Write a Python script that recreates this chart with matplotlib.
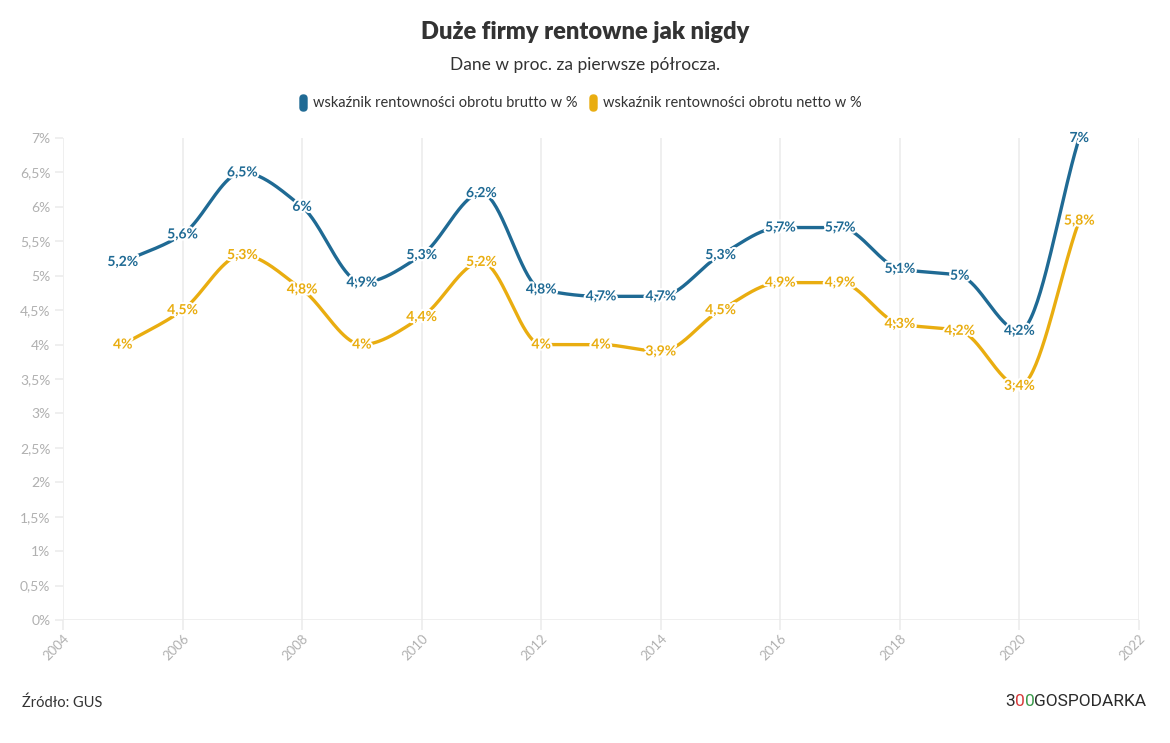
import matplotlib
matplotlib.use("Agg")
import matplotlib.pyplot as plt
import matplotlib.patheffects as pe
from matplotlib.patches import FancyBboxPatch
import numpy as np

years = [2005, 2006, 2007, 2008, 2009, 2010, 2011, 2012, 2013,
         2014, 2015, 2016, 2017, 2018, 2019, 2020, 2021]
brutto = [5.2, 5.6, 6.5, 6.0, 4.9, 5.3, 6.2, 4.8, 4.7,
          4.7, 5.3, 5.7, 5.7, 5.1, 5.0, 4.2, 7.0]
netto = [4.0, 4.5, 5.3, 4.8, 4.0, 4.4, 5.2, 4.0, 4.0,
         3.9, 4.5, 4.9, 4.9, 4.3, 4.2, 3.4, 5.8]
series_names = ["wskaźnik rentowności obrotu brutto w %",
                "wskaźnik rentowności obrotu netto w %"]
colors = ["#1f6a94", "#e9ad10"]

plt.rcParams['font.family'] = ['Lato', 'DejaVu Sans']


def monotone_curve(x, y, n=40):
    # Fritsch-Carlson monotone cubic, only for drawing the smooth line
    x = np.asarray(x, float)
    y = np.asarray(y, float)
    h = np.diff(x)
    d = np.diff(y) / h
    m = np.zeros_like(y)
    m[0], m[-1] = d[0], d[-1]
    for i in range(1, len(y) - 1):
        if d[i - 1] * d[i] <= 0:
            m[i] = 0
        else:
            w1 = 2 * h[i] + h[i - 1]
            w2 = h[i] + 2 * h[i - 1]
            m[i] = (w1 + w2) / (w1 / d[i - 1] + w2 / d[i])
    xs, ys = [], []
    for i in range(len(x) - 1):
        t = np.linspace(0, 1, n, endpoint=False)
        h00 = 2 * t**3 - 3 * t**2 + 1
        h10 = t**3 - 2 * t**2 + t
        h01 = -2 * t**3 + 3 * t**2
        h11 = t**3 - t**2
        xs.append(x[i] + t * h[i])
        ys.append(h00 * y[i] + h10 * h[i] * m[i] + h01 * y[i + 1] + h11 * h[i] * m[i + 1])
    xs.append([x[-1]])
    ys.append([y[-1]])
    return np.concatenate(xs), np.concatenate(ys)


def fmt(v):
    s = f"{v:.1f}".rstrip("0").rstrip(".")
    return s.replace(".", ",") + "%"


W, H = 1170, 743
fig = plt.figure(figsize=(W / 100, H / 100), dpi=100)
ax = fig.add_axes([63 / W, 1 - 620 / H, (1139 - 63) / W, (620 - 138) / H])

grid_c = "#ebebeb"
for s in ax.spines.values():
    s.set_visible(False)
ax.axhline(0, color=grid_c, lw=1.1, zorder=1)
ax.set_xlim(2004, 2022)
ax.set_ylim(0, 7)
ax.set_xticks(range(2004, 2023, 2))
ax.set_yticks(np.arange(0, 7.01, 0.5))
ax.set_yticklabels([fmt(v) for v in np.arange(0, 7.01, 0.5)])
ax.grid(axis="x", color=grid_c, lw=1.1)
ax.tick_params(axis="x", colors=grid_c, length=7, width=1.1, labelcolor="#b0b0b0",
               labelsize=9.5, labelrotation=45, pad=2)
ax.tick_params(axis="y", colors=grid_c, length=6, width=1.1, labelcolor="#b0b0b0",
               labelsize=10, pad=3)
for lab in ax.get_xticklabels():
    lab.set_ha("right")
    lab.set_rotation_mode("anchor")

halo = [pe.withStroke(linewidth=3, foreground="white")]
for vals, c in zip([brutto, netto], colors):
    cx, cy = monotone_curve(years, vals)
    ax.plot(cx, cy, color=c, lw=2.4, solid_capstyle="round", clip_on=False, zorder=3)
    for x, v in zip(years, vals):
        ax.text(x, v, fmt(v), color=c, fontsize=10, fontweight="bold", ha="center",
                va="center", path_effects=halo, zorder=5)

fig.text(0.5, 1 - 32 / H, "Duże firmy rentowne jak nigdy", ha="center", va="center",
         fontsize=17, fontweight="heavy", color="#333333")
fig.text(0.5, 1 - 65 / H, "Dane w proc. za pierwsze półrocza.", ha="center", va="center",
         fontsize=12.5, color="#333333")

# legend
leg_y = 1 - 103 / H
for mx, tx, name, c in zip([300, 590], [313, 603], series_names, colors):
    fig.patches.append(FancyBboxPatch((mx / W, leg_y - 8 / H), 7 / W, 16 / H,
                                      boxstyle="round,pad=0,rounding_size=0.003",
                                      transform=fig.transFigure, color=c, mutation_aspect=W / H))
    fig.text(tx / W, leg_y, name, ha="left", va="center", fontsize=10.5, color="#333333")

fig.text(22 / W, 1 - 703 / H, "Źródło: GUS", ha="left", va="center", fontsize=10.5,
         color="#333333")

# logo
renderer = fig.canvas.get_renderer()
x0 = 1005
for part, c in [("3", "#2b2b2b"), ("0", "#d63a3a"), ("0", "#3a9a4a"), ("GOSPODARKA", "#2b2b2b")]:
    t = fig.text(x0 / W, 1 - 701 / H, part, ha="left", va="center", fontsize=12.5,
                 color=c, family="Roboto")
    x0 += t.get_window_extent(renderer).width

fig.savefig("out.png", dpi=100)
